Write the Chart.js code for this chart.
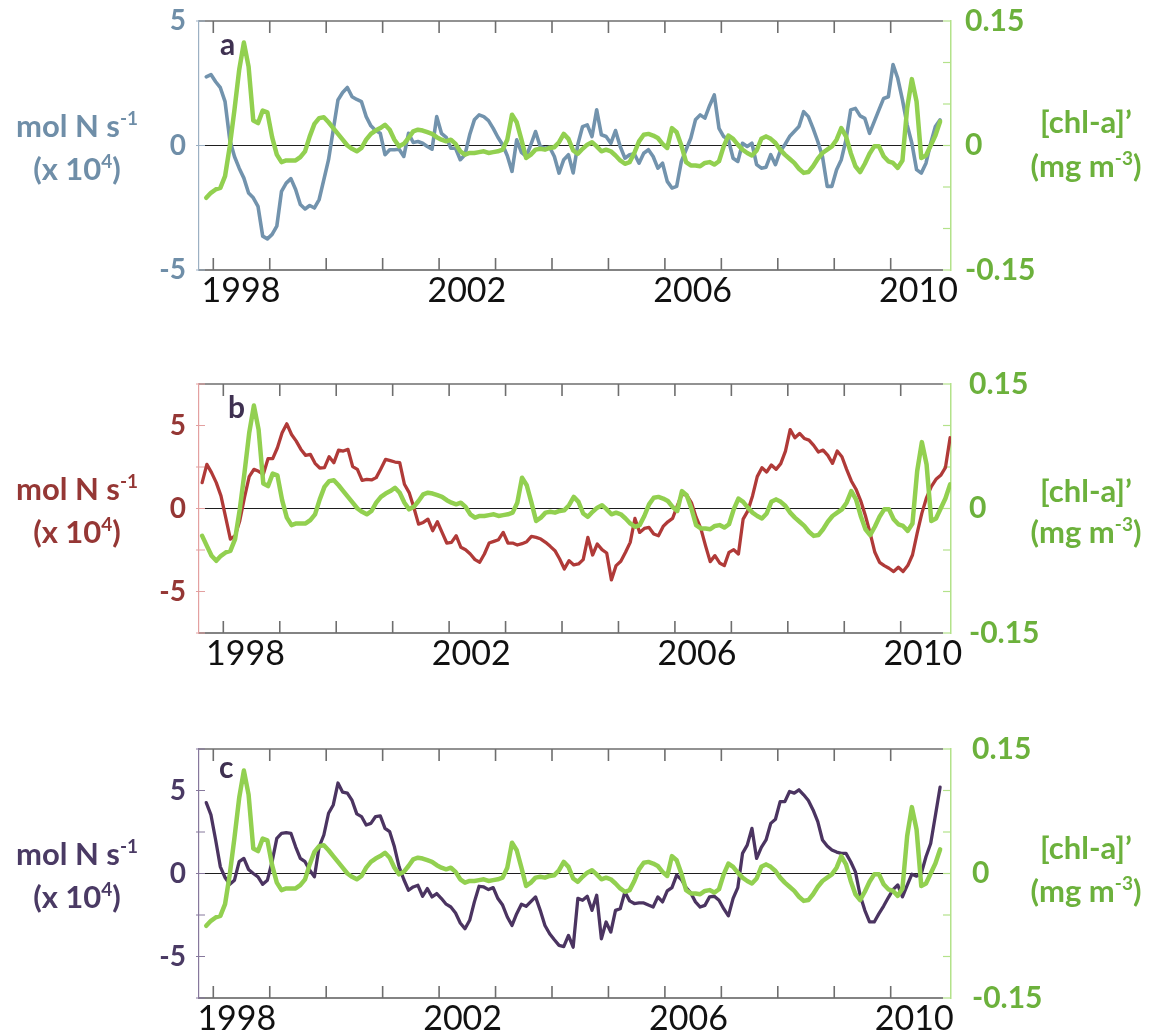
<!DOCTYPE html>
<html>
<head>
<meta charset="utf-8">
<script src="https://cdn.jsdelivr.net/npm/chart.js@4.4.0/dist/chart.umd.min.js"></script>
<style>
  html, body { margin: 0; padding: 0; background: #fff; }
  #wrap { position: relative; width: 1160px; height: 1034px; overflow: hidden; background: #fff; }
  canvas { position: absolute; left: 0; }
</style>
</head>
<body>
<div id="wrap">
  <canvas id="pa" width="1160" height="345" style="top:0px"></canvas>
  <canvas id="pb" width="1160" height="345" style="top:363px"></canvas>
  <canvas id="pc" width="1160" height="306" style="top:728px"></canvas>
</div>
<script>
// Monthly series, one value per month starting at the given [year, month].

// Chlorophyll-a anomaly [chl-a]' (mg m-3), from Aug 1997
const chlStart = [1997, 8];
const chl = [
  -0.033, -0.045, -0.057, -0.063, -0.057,                                              // 1997 Aug-Dec
  -0.053, -0.051, -0.037, -0.001, 0.043, 0.091, 0.124, 0.095, 0.030, 0.027, 0.042, 0.040, // 1998
  0.010, -0.011, -0.020, -0.018, -0.018, -0.018, -0.014, -0.007, 0.011, 0.026, 0.033, 0.034, // 1999
  0.028, 0.021, 0.014, 0.007, 0.000, -0.004, -0.007, -0.003, 0.007, 0.014, 0.018, 0.021,  // 2000
  0.025, 0.019, 0.007, -0.001, 0.002, 0.009, 0.017, 0.019, 0.018, 0.016, 0.014, 0.010,    // 2001
  0.007, 0.005, 0.007, 0.002, -0.007, -0.011, -0.009, -0.009, -0.008, -0.007, -0.009, -0.008, // 2002
  -0.007, -0.005, 0.007, 0.037, 0.028, 0.007, -0.015, -0.011, -0.005, -0.004, -0.005, -0.003, // 2003
  -0.002, 0.004, 0.014, 0.008, -0.006, -0.010, -0.004, 0.001, 0.004, -0.001, -0.007, -0.005,  // 2004
  -0.007, -0.012, -0.018, -0.022, -0.020, -0.009, 0.005, 0.013, 0.014, 0.012, 0.009, 0.002,   // 2005
  -0.003, 0.021, 0.016, 0.000, -0.020, -0.024, -0.024, -0.025, -0.021, -0.020, -0.023, -0.019, // 2006
  -0.001, 0.012, 0.008, 0.001, -0.005, -0.009, -0.012, -0.006, 0.008, 0.011, 0.008, 0.003,    // 2007
  -0.005, -0.011, -0.016, -0.021, -0.028, -0.033, -0.032, -0.025, -0.016, -0.009, -0.005, -0.001, // 2008
  0.007, 0.021, 0.011, -0.009, -0.025, -0.032, -0.022, -0.010, -0.001, -0.001, -0.013, -0.019,  // 2009
  -0.021, -0.027, -0.018, 0.045, 0.080, 0.053, -0.015, -0.012, 0.000, 0.012, 0.029              // 2010 Jan-Nov
];

// Nitrogen flux anomaly, panel a (mol N s-1, x 10^4), from Nov 1997
const fluxAStart = [1997, 11];
const fluxA = [
  2.76, 2.85,                                                                  // 1997 Nov-Dec
  2.56, 2.32, 1.76, 0.23, -0.44, -0.91, -1.31, -1.91, -2.10, -2.44, -3.64, -3.75, // 1998
  -3.57, -3.24, -1.84, -1.51, -1.33, -1.77, -2.37, -2.55, -2.41, -2.51, -2.17, -1.37, // 1999
  -0.57, 0.63, 1.83, 2.13, 2.33, 1.96, 1.85, 1.76, 1.16, 0.79, 0.60, 0.49,      // 2000
  -0.37, -0.17, -0.17, -0.15, -0.44, 0.49, 0.12, 0.16, 0.09, -0.04, -0.15, 1.16, // 2001
  0.49, 0.33, -0.11, -0.11, -0.57, -0.37, 0.43, 1.03, 1.23, 1.16, 1.00, 0.69,    // 2002
  0.33, 0.03, -0.41, -1.04, 0.23, -0.28, -0.44, 0.03, 0.56, -0.04, -0.11, -0.07, // 2003
  -0.44, -1.11, -0.57, -0.37, -1.10, 0.05, 0.76, 0.83, 0.36, 1.43, 0.43, 0.36,   // 2004
  0.09, 0.60, -0.04, -0.51, -0.37, -0.33, -0.71, -0.31, -0.17, -0.44, -0.91, -0.71, // 2005
  -1.44, -1.71, -1.64, -0.64, -0.17, 0.29, 1.03, 1.23, 1.10, 1.60, 2.03, 0.69,  // 2006
  0.36, 0.23, -0.51, -0.64, 0.09, -0.04, 0.09, -0.77, -0.91, -0.87, -0.37, -0.77, // 2007
  -0.24, 0.03, 0.36, 0.56, 0.76, 1.36, 1.16, 0.69, 0.16, -0.44, -1.64, -1.64,   // 2008
  -0.97, -0.57, 0.23, 1.43, 1.49, 1.19, 1.09, 0.49, 0.96, 1.43, 1.89, 1.96,      // 2009
  3.25, 2.70, 1.83, 0.83, 0.09, -0.97, -1.11, -0.71, 0.09, 0.76, 1.03            // 2010 Jan-Nov
];

// Nitrogen flux anomaly, panel b, from Aug 1997
const fluxBStart = [1997, 8];
const fluxB = [
  1.56, 2.66, 2.16, 1.56, 0.76,                                                // 1997 Aug-Dec
  -0.54, -1.84, -1.64, -0.74, 0.66, 1.92, 2.36, 2.24, 2.06, 3.00, 3.00, 3.66,   // 1998
  4.56, 5.10, 4.46, 4.06, 3.56, 3.20, 3.26, 2.72, 2.44, 2.46, 3.12, 2.76,       // 1999
  3.52, 3.46, 3.56, 2.52, 2.36, 1.70, 1.76, 1.72, 1.86, 2.40, 2.96, 2.88,       // 2000
  2.80, 2.76, 1.46, 0.96, 0.06, -0.94, -0.84, -0.64, -1.34, -0.80, -1.44, -2.08, // 2001
  -2.04, -1.64, -2.34, -2.48, -2.74, -3.08, -3.24, -2.74, -2.08, -1.98, -1.88, -1.44, // 2002
  -2.08, -2.08, -2.20, -2.12, -2.00, -1.68, -1.74, -1.84, -2.04, -2.28, -2.54, -3.04, // 2003
  -3.64, -3.14, -3.40, -3.34, -3.08, -1.74, -2.80, -2.14, -2.48, -2.68, -4.30, -3.44, // 2004
  -3.18, -2.64, -2.04, -0.60, -1.44, -1.20, -1.14, -1.54, -1.64, -1.08, -0.80, -0.60, // 2005
  0.16, 0.86, 0.80, 0.36, -0.52, -1.20, -2.24, -3.20, -2.84, -3.28, -3.44, -2.64, // 2006
  -2.48, -2.74, -0.64, -0.14, 0.76, 1.92, 2.46, 2.20, 2.62, 2.36, 2.70, 3.46,   // 2007
  4.75, 4.26, 4.52, 4.22, 4.12, 3.80, 3.40, 3.52, 3.20, 2.72, 3.46, 3.12,       // 2008
  2.36, 1.66, 1.16, 0.46, -0.44, -1.48, -2.64, -3.24, -3.44, -3.60, -3.80, -3.54, // 2009
  -3.80, -3.44, -2.80, -1.48, -0.28, 0.66, 1.32, 1.76, 2.00, 2.46, 4.26         // 2010 Jan-Nov
];

// Nitrogen flux anomaly, panel c, from Nov 1997
const fluxCStart = [1997, 11];
const fluxC = [
  4.27, 3.53,                                                                  // 1997 Nov-Dec
  2.02, 0.40, -0.24, -0.65, -0.40, 0.71, 0.91, 0.24, 0.00, -0.20, -0.65, -0.40, // 1998
  0.71, 2.12, 2.42, 2.46, 2.42, 1.61, 0.91, 0.71, 0.20, -0.20, 1.61, 2.32,      // 1999
  3.63, 4.13, 5.45, 4.90, 4.84, 4.40, 3.59, 3.43, 2.92, 3.02, 3.43, 3.47,       // 2000
  2.72, 2.52, 1.61, 0.40, -0.36, -1.01, -0.81, -0.71, -1.37, -0.91, -1.41, -1.21, // 2001
  -1.51, -1.85, -2.02, -2.38, -2.98, -3.33, -2.82, -1.71, -0.77, -0.81, -0.97, -0.85, // 2002
  -1.51, -1.90, -2.62, -3.13, -2.42, -1.85, -1.98, -1.69, -1.41, -2.22, -3.13, -3.63, // 2003
  -3.99, -4.33, -4.40, -3.73, -4.44, -1.50, -1.61, -1.37, -2.22, -1.31, -3.93, -2.92, // 2004
  -3.53, -2.22, -2.12, -1.11, -1.65, -1.81, -1.77, -1.77, -1.90, -2.02, -1.41, -1.71, // 2005
  -1.05, -0.85, -0.10, -0.36, -0.85, -1.17, -1.71, -2.02, -1.92, -1.41, -1.37, -1.61, // 2006
  -2.12, -2.55, -1.50, -0.85, 1.21, 1.71, 2.72, 0.91, 1.57, 2.02, 3.02, 3.27,   // 2007
  4.33, 4.33, 4.94, 4.84, 5.04, 4.74, 4.40, 3.83, 3.13, 2.02, 1.65, 1.41,       // 2008
  1.29, 1.21, 1.21, 0.71, 0.10, -1.31, -2.22, -2.92, -2.92, -2.42, -1.96, -1.45, // 2009
  -0.97, -0.69, -1.41, -0.71, -0.04, -0.16, 0.00, 1.01, 1.81, 3.50, 5.20        // 2010 Jan-Nov
];

// Axis labels
const yearLabels = ['1998', '2002', '2006', '2010'];
const fluxLabelValues = [-5, 0, 5];
const chlTickValues = [-0.15, -0.1, -0.05, 0, 0.05, 0.1, 0.15];
const chlLabels = { '-0.15': '-0.15', '0': '0', '0.15': '0.15' };

// ---------------------------------------------------------------------------

const GREEN_LINE = '#92d050';
const GREEN_TEXT = '#6cb13c';
const GREEN_AXIS = '#b3e28a';
const FONT = 'Lato, "Open Sans", sans-serif';
const X_SPAN = 159.86;       // months spanned by each plot
const PLOT_TOP = 21, PLOT_BOTTOM = 270, PLOT_LEFT = 199, PLOT_RIGHT = 951;

const monthIndex = ([y, m]) => (y - 1998) * 12 + (m - 1);   // months since Jan 1998
const toPoints = (values, start) => values.map((v, i) => ({ x: monthIndex(start) + i + 0.5, y: v }));

const panels = [
  { canvas: 'pa', letter: 'a', flux: fluxA, fluxFrom: fluxAStart, chlFrom: [1997, 11],
    line: '#7293ad', text: '#6f8ea8', axis: '#9cb0c3', lw: 3.6,
    xMin: -3.04, yLim: 5, yTicks: [-5, 0, 5], labelOff: 5.9, rPad: 14,
    letterX: 220, letterY: 55, rTitleY: [133, 177] },
  { canvas: 'pb', letter: 'b', flux: fluxB, fluxFrom: fluxBStart, chlFrom: [1997, 8],
    line: '#b03a38', text: '#953735', axis: '#e3a0a0', lw: 3.3,
    xMin: -5.17, yLim: 7.5, yTicks: [-7.5, -5, -2.5, 0, 2.5, 5, 7.5], labelOff: 4.7, rPad: 18,
    letterX: 228, letterY: 55, rTitleY: [139, 180] },
  { canvas: 'pc', letter: 'c', flux: fluxC, fluxFrom: fluxCStart, chlFrom: [1997, 11],
    line: '#4b3461', text: '#4a3a64', axis: '#86789c', lw: 3.3,
    xMin: -3.04, yLim: 7.5, yTicks: [-7.5, -5, -2.5, 0, 2.5, 5, 7.5], labelOff: 5.0, rPad: 21,
    letterX: 219, letterY: 50, rTitleY: [131, 174] }
];

// Text with superscript runs, centred on cx
function richText(ctx, runs, cx, baseline, size, color) {
  const supSize = Math.round(size * 0.62);
  let total = 0;
  runs.forEach(r => {
    ctx.font = `bold ${r.sup ? supSize : size}px ${FONT}`;
    r.w = ctx.measureText(r.t).width;
    total += r.w;
  });
  let x = cx - total / 2;
  ctx.fillStyle = color;
  ctx.textAlign = 'left';
  ctx.textBaseline = 'alphabetic';
  runs.forEach(r => {
    ctx.font = `bold ${r.sup ? supSize : size}px ${FONT}`;
    ctx.fillText(r.t, x, r.sup ? baseline - size * 0.4 : baseline);
    x += r.w;
  });
}

function seg(ctx, x1, y1, x2, y2, color, w) {
  ctx.beginPath();
  ctx.strokeStyle = color;
  ctx.lineWidth = w;
  ctx.moveTo(x1, y1);
  ctx.lineTo(x2, y2);
  ctx.stroke();
}

// Frame, zero line, inward tick marks, axis titles and panel letter
const framePlugin = {
  id: 'frame',
  beforeDatasetsDraw(chart, args, o) {
    const { ctx, chartArea: ca, scales } = chart;
    const xr = ca.right - 8;   // primary horizontal axes stop short of the secondary axis
    ctx.save();
    const y0 = scales.y.getPixelForValue(0);
    seg(ctx, ca.left, y0, xr, y0, '#1e1e1e', 1.2);
    seg(ctx, ca.left, ca.top, xr, ca.top, '#6e6e6e', 1.6);
    seg(ctx, ca.left, ca.bottom, xr, ca.bottom, '#5a5a5a', 1.6);
    for (let yr = 1998; yr <= 2011; yr++) {
      const px = scales.x.getPixelForValue((yr - 1998) * 12);
      if (px <= ca.left + 1 || px >= xr) continue;
      seg(ctx, px, ca.bottom, px, ca.bottom - 12, '#6e6e6e', 1.6);
      seg(ctx, px, ca.top, px, ca.top + 12, '#6e6e6e', 1.6);
    }
    scales.y.ticks.forEach(t => {
      const py = scales.y.getPixelForValue(t.value);
      seg(ctx, ca.left - 3, py, ca.left + 6, py, o.axis, 1);
    });
    scales.y2.ticks.forEach(t => {
      const py = scales.y2.getPixelForValue(t.value);
      seg(ctx, ca.right - 8, py, ca.right, py, GREEN_AXIS, 1.2);
    });
    ctx.restore();
  },
  afterDraw(chart, args, o) {
    const { ctx } = chart;
    ctx.save();
    richText(ctx, [{ t: 'mol N s' }, { t: '-1', sup: true }], 77, 137, 31, o.text);
    richText(ctx, [{ t: '(x 10' }, { t: '4', sup: true }, { t: ')' }], 77, 180, 31, o.text);
    richText(ctx, [{ t: '[chl-a]\u2019' }], 1086, o.rTitleY[0], 31, GREEN_TEXT);
    richText(ctx, [{ t: '(mg m' }, { t: '-3', sup: true }, { t: ')' }], 1086, o.rTitleY[1], 31, GREEN_TEXT);
    ctx.font = `bold 30px ${FONT}`;
    ctx.fillStyle = '#3f3151';
    ctx.textAlign = 'left';
    ctx.textBaseline = 'alphabetic';
    ctx.fillText(o.letter, o.letterX, o.letterY);
    ctx.restore();
  }
};

// Keep the plot rectangle fixed: no extra room reserved for label overhang
const noOverhang = s => { s.paddingTop = 0; s.paddingBottom = 0; s.paddingLeft = 0; s.paddingRight = 0; };

panels.forEach(p => {
  const canvas = document.getElementById(p.canvas);
  const H = canvas.height;
  const chlFrom = monthIndex(p.chlFrom) - monthIndex(chlStart);
  new Chart(canvas, {
    type: 'line',
    data: {
      datasets: [
        { label: "[chl-a]'", data: toPoints(chl.slice(chlFrom), p.chlFrom), yAxisID: 'y2',
          borderColor: GREEN_LINE, borderWidth: 4.5, pointRadius: 0, tension: 0,
          borderJoinStyle: 'round', borderCapStyle: 'round' },
        { label: 'mol N s-1', data: toPoints(p.flux, p.fluxFrom), yAxisID: 'y',
          borderColor: p.line, borderWidth: p.lw, pointRadius: 0, tension: 0,
          borderJoinStyle: 'round', borderCapStyle: 'round' }
      ]
    },
    options: {
      responsive: false,
      animation: false,
      events: [],
      layout: { padding: { top: PLOT_TOP, left: 0, right: 0, bottom: 0 } },
      plugins: {
        legend: { display: false },
        tooltip: { enabled: false },
        frame: { axis: p.axis, text: p.text, letter: p.letter, letterX: p.letterX,
                 letterY: p.letterY, rTitleY: p.rTitleY }
      },
      scales: {
        x: {
          type: 'linear', position: 'bottom',
          min: p.xMin, max: p.xMin + X_SPAN,
          afterBuildTicks: s => { s.ticks = yearLabels.map(y => ({ value: (+y - 1998) * 12 + p.labelOff })); },
          ticks: { autoSkip: false, maxRotation: 0, padding: 1, color: '#111',
                   font: { family: FONT, size: 34 },
                   callback: (v, i) => yearLabels[i] },
          grid: { display: false, drawTicks: false },
          border: { display: false },
          afterFit: s => { s.height = H - PLOT_BOTTOM; noOverhang(s); }
        },
        y: {
          position: 'left', min: -p.yLim, max: p.yLim,
          afterBuildTicks: s => { s.ticks = p.yTicks.map(v => ({ value: v })); },
          ticks: { padding: 13, color: p.text, font: { family: FONT, size: 28, weight: 'bold' },
                   callback: v => fluxLabelValues.includes(v) ? String(v) : '' },
          grid: { display: false, drawTicks: false },
          border: { display: true, color: p.axis, width: 1.2 },
          afterFit: s => { s.width = PLOT_LEFT; noOverhang(s); }
        },
        y2: {
          position: 'right', min: -0.15, max: 0.15,
          afterBuildTicks: s => { s.ticks = chlTickValues.map(v => ({ value: v })); },
          ticks: { padding: p.rPad, color: GREEN_TEXT, font: { family: FONT, size: 30, weight: 'bold' },
                   callback: v => chlLabels[String(v)] || '' },
          grid: { display: false, drawTicks: false },
          border: { display: true, color: GREEN_AXIS, width: 1.5 },
          afterFit: s => { s.width = 1160 - PLOT_RIGHT; noOverhang(s); }
        }
      }
    },
    plugins: [framePlugin]
  });
});
</script>
</body>
</html>
